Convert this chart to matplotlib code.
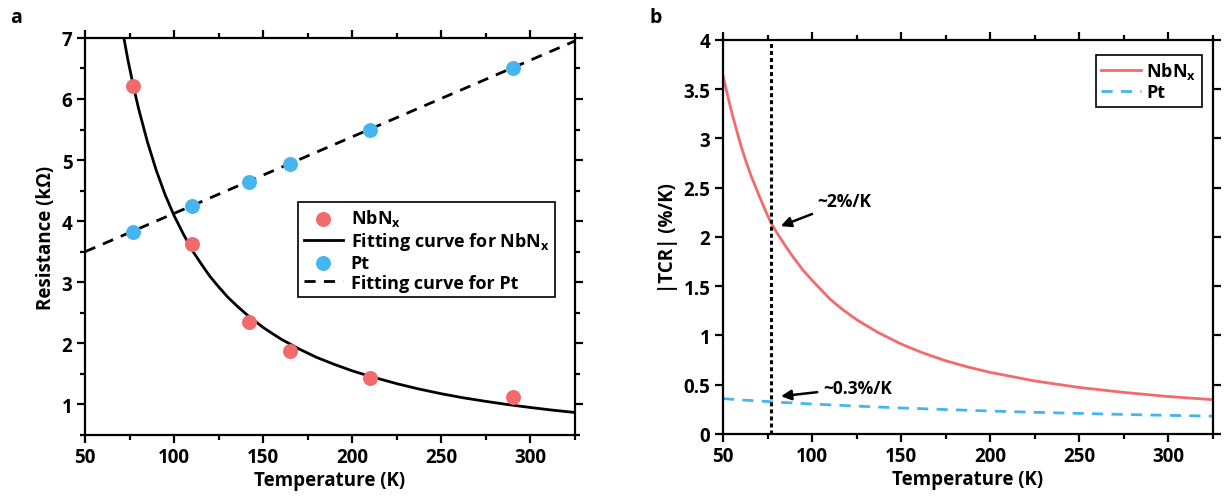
import matplotlib
matplotlib.use("Agg")
import matplotlib.pyplot as plt
from matplotlib.ticker import MultipleLocator

plt.rcParams["font.family"] = ["Open Sans", "DejaVu Sans"]
plt.rcParams["font.weight"] = "bold"
plt.rcParams["axes.labelweight"] = "bold"
plt.rcParams["mathtext.default"] = "regular"

# panel a: measured resistance
temp_pts = [77, 110, 142, 165, 210, 290]
nbn_pts = [6.21, 3.62, 2.35, 1.87, 1.43, 1.13]
pt_pts = [3.83, 4.25, 4.64, 4.93, 5.50, 6.51]

# panel a: fitting curves
fit_temp = [71, 74, 77, 80, 85, 90, 95, 100, 105, 110, 115, 120, 125, 130,
            135, 140, 145, 150, 155, 160, 170, 180, 190, 200, 210, 225, 237,
            250, 262, 275, 287, 300, 312, 325]
fit_nbn = [7.13, 6.65, 6.23, 5.85, 5.30, 4.83, 4.43, 4.09, 3.80, 3.53, 3.31,
           3.10, 2.925, 2.76, 2.62, 2.49, 2.372, 2.26, 2.163, 2.07, 1.91, 1.77,
           1.655, 1.55, 1.46, 1.34, 1.255, 1.175, 1.11, 1.05, 0.999, 0.95,
           0.908, 0.868]
fit_pt_temp = [50, 325]
fit_pt = [3.50, 6.95]

# panel b: |TCR|
tcr_temp = [50, 52, 54, 56, 58, 60, 63, 66, 70, 74, 77, 80, 85, 90, 95, 100,
            110, 117, 125, 137, 150, 162, 175, 187, 200, 225, 250, 275, 300, 325]
tcr_nbn = [3.64, 3.48, 3.33, 3.19, 3.06, 2.93, 2.76, 2.61, 2.43, 2.26, 2.14,
           2.05, 1.91, 1.78, 1.66, 1.56, 1.37, 1.265, 1.16, 1.03, 0.913, 0.824,
           0.743, 0.682, 0.625, 0.538, 0.472, 0.422, 0.38, 0.348]
tcr_pt_temp = [50, 60, 70, 80, 90, 100, 125, 150, 175, 200, 225, 250, 275, 300, 325]
tcr_pt = [0.359, 0.346, 0.335, 0.324, 0.314, 0.304, 0.283, 0.264, 0.248,
          0.233, 0.220, 0.209, 0.198, 0.189, 0.181]
t_ln2 = 77

red = "#F26A6C"
blue = "#45B5EF"
fs = 13.5

fig = plt.figure(figsize=(12.25, 5.02), dpi=100)
ax1 = fig.add_axes([0.0694, 0.1315, 0.400, 0.791])
ax2 = fig.add_axes([0.5902, 0.1335, 0.400, 0.785])


def style(ax):
    for s in ax.spines.values():
        s.set_linewidth(1.6)
    ax.tick_params(which="both", direction="out", top=True, right=True,
                   labeltop=False, labelright=False, width=1.6,
                   labelsize=fs, pad=3)
    ax.tick_params(which="major", length=6)
    ax.tick_params(which="minor", length=3.5)
    ax.xaxis.set_major_locator(MultipleLocator(50))
    ax.xaxis.set_minor_locator(MultipleLocator(25))
    ax.set_xlim(50, 325)
    ax.set_xlabel("Temperature (K)", fontsize=fs, labelpad=2)


# ---- panel a
style(ax1)
ax1.plot(fit_temp, fit_nbn, color="black", lw=2,
         label="Fitting curve for NbN$_x$", zorder=2)
ax1.plot(fit_pt_temp, fit_pt, color="black", lw=2, ls=(0, (4, 3)),
         label="Fitting curve for Pt", zorder=2)
ax1.scatter(temp_pts, nbn_pts, s=95, color=red, label="NbN$_x$", zorder=3)
ax1.scatter(temp_pts, pt_pts, s=95, color=blue, label="Pt", zorder=3)
ax1.set_ylim(0.5, 7)
ax1.yaxis.set_major_locator(MultipleLocator(1))
ax1.yaxis.set_minor_locator(MultipleLocator(0.5))
ax1.set_ylabel("Resistance (k\u03a9)", fontsize=fs, labelpad=4)
h, l = ax1.get_legend_handles_labels()
order = [2, 0, 3, 1]
leg = ax1.legend([h[i] for i in order], [l[i] for i in order],
                 loc="upper left", bbox_to_anchor=(0.435, 0.587),
                 fontsize=13, frameon=True, fancybox=False, framealpha=1,
                 edgecolor="black", handlelength=2.2, handletextpad=0.4,
                 labelspacing=0.1, borderpad=0.3, borderaxespad=0)
leg.get_frame().set_linewidth(1.2)

# ---- panel b
style(ax2)
ax2.plot(tcr_temp, tcr_nbn, color=red, lw=2, label="NbN$_x$")
ax2.plot(tcr_pt_temp, tcr_pt, color=blue, lw=2, ls=(0, (4, 3)), label="Pt")
ax2.axvline(t_ln2, color="black", lw=2.2, ls=(0, (1.3, 1.0)))
ax2.set_ylim(0, 4)
ax2.yaxis.set_major_locator(MultipleLocator(0.5))
ax2.yaxis.set_major_formatter(plt.FuncFormatter(lambda v, p: f"{v:g}"))
ax2.set_ylabel("|TCR| (%/K)", fontsize=fs, labelpad=4)
leg2 = ax2.legend(loc="upper right", bbox_to_anchor=(0.977, 0.962),
                  fontsize=13, frameon=True, fancybox=False, framealpha=1,
                  edgecolor="black", handlelength=2.2, handletextpad=0.3,
                  labelspacing=0.1, borderpad=0.3, borderaxespad=0)
leg2.get_frame().set_linewidth(1.2)

arrow = dict(arrowstyle="-|>", color="black", lw=1.8, mutation_scale=15)
ax2.annotate("~2%/K", xy=(81, 2.10), xytext=(103, 2.36), fontsize=12.5,
             va="center", ha="left", arrowprops=arrow)
ax2.annotate("~0.3%/K", xy=(81, 0.38), xytext=(106, 0.47), fontsize=12.5,
             va="center", ha="left", arrowprops=arrow)

fig.text(0.008, 0.965, "a", fontsize=14, fontweight="bold", va="center")
fig.text(0.530, 0.965, "b", fontsize=14, fontweight="bold", va="center")

fig.savefig("out.png", dpi=100)
